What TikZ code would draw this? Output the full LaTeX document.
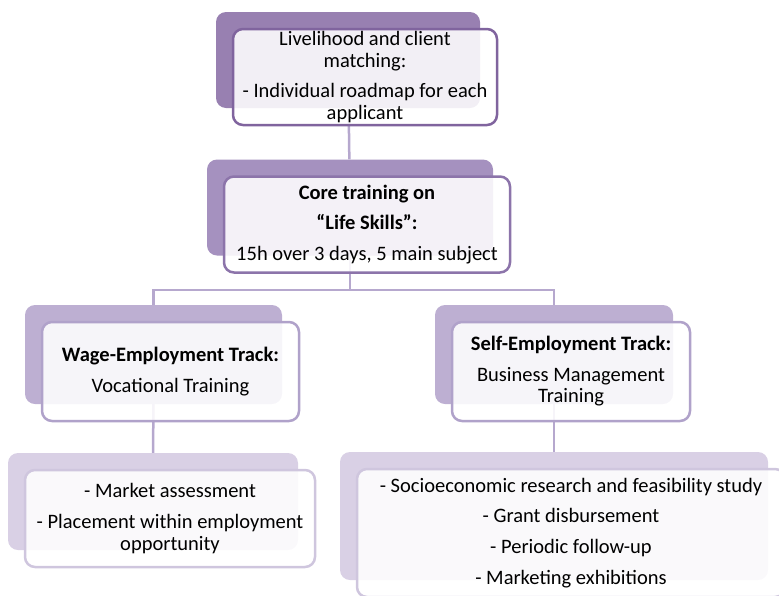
\documentclass[tikz,border=0pt]{standalone}
\usepackage{fontspec}
\setmainfont{Carlito}
\usetikzlibrary{positioning}
\definecolor{backA}{RGB}{152,128,177}
\definecolor{backB}{RGB}{165,145,191}
\definecolor{backC}{RGB}{189,175,210}
\definecolor{backD}{RGB}{217,208,229}
\definecolor{edgeA}{RGB}{128,100,158}
\definecolor{edgeB}{RGB}{140,116,170}
\definecolor{edgeC}{RGB}{176,162,202}
\definecolor{edgeD}{RGB}{207,198,222}
\definecolor{linkc}{RGB}{182,168,206}
\tikzstyle{back} = [rectangle, rounded corners=10pt, inner sep=0pt]
\tikzstyle{front} = [rectangle, rounded corners=10pt, line width=2.5pt, fill=white, fill opacity=0.88, text opacity=1, align=center, inner sep=0pt, xshift=17pt, yshift=-17pt, font=\fontsize{20.5}{21.8}\selectfont]
\tikzstyle{link} = [line width=2.5pt, draw=linkc]

\begin{document}
\begin{tikzpicture}[x=1pt, y=-1pt]
      \useasboundingbox (0,0) rectangle (779,595);
      \clip (0,0) rectangle (779,595);
      % shaded boxes behind
      \node (lhB) [back, fill=backA, minimum width=264pt, minimum height=96pt] at (348,60) {};
      \node (ctB) [back, fill=backB, minimum width=286pt, minimum height=96pt] at (350,207.5) {};
      \node (wgB) [back, fill=backC, minimum width=257pt, minimum height=99pt] at (153.5,354.5) {};
      \node (seB) [back, fill=backC, minimum width=238pt, minimum height=99pt] at (554,354.5) {};
      \node (mkB) [back, fill=backD, minimum width=290pt, minimum height=97pt] at (153,501.5) {};
      \node (grB) [back, fill=backD, minimum width=428pt, minimum height=128pt] at (554,516) {};
      % connectors
      \coordinate (fork) at (350,290);
      \draw [link] (lhB) -- (ctB);
      \draw [link] (ctB.south) -- (fork);
      \draw [link] (fork) -| (wgB.north);
      \draw [link] (fork) -| (seB.north);
      \draw [link] (wgB) -- (mkB);
      \draw [link] (seB) -- (grB);
      % white boxes with the text
      \node (lh) [front, draw=edgeA, minimum width=264pt, minimum height=96pt] at (lhB.center)
            {Livelihood and client\\ matching:\\[8.5pt] - Individual roadmap for each\\ applicant};
      \node (ct) [front, draw=edgeB, minimum width=286pt, minimum height=96pt] at (ctB.center)
            {\textbf{Core training on}\\[8.5pt] \textbf{``Life Skills'':}\\[8.5pt] 15h over 3 days, 5 main subject};
      \node (wg) [front, draw=edgeC, minimum width=257pt, minimum height=99pt] at (wgB.center)
            {\textbf{Wage-Employment Track:}\\[8.5pt] Vocational Training};
      \node (se) [front, draw=edgeC, minimum width=238pt, minimum height=99pt] at (seB.center)
            {\textbf{Self-Employment Track:}\\[8.5pt] Business Management\\ Training};
      \node (mk) [front, draw=edgeD, minimum width=290pt, minimum height=97pt] at (mkB.center)
            {- Market assessment\\[8.5pt] - Placement within employment\\ opportunity};
      \node (gr) [front, draw=edgeD, minimum width=428pt, minimum height=128pt] at (grB.center)
            {- Socioeconomic research and feasibility study\\[9pt] - Grant disbursement\\[9pt] - Periodic follow-up\\[9pt] - Marketing exhibitions};
    \end{tikzpicture}
\end{document}
